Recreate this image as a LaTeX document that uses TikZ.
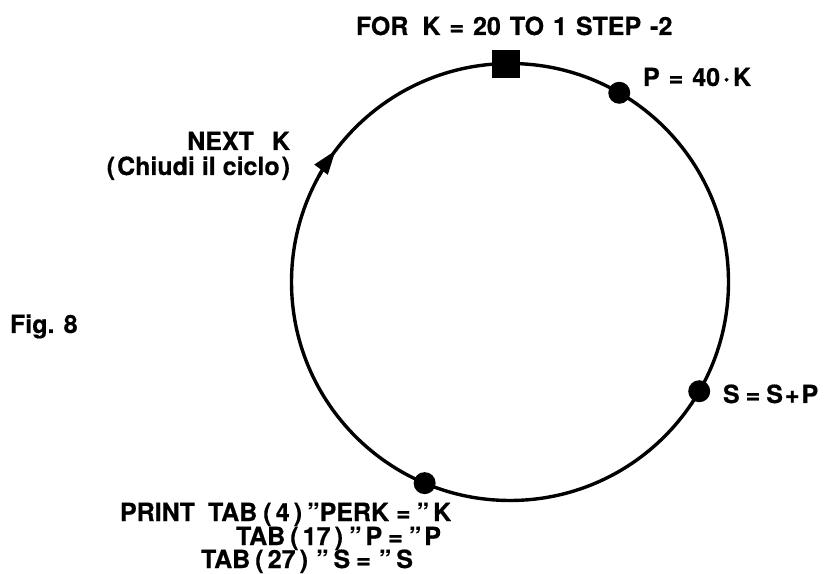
\documentclass[tikz,border=0pt]{standalone}
\usepackage{fontspec}
\setmainfont{TeX Gyre Heros}[BoldFeatures={FakeBold=0.5}]
\usetikzlibrary{arrows.meta}
\tikzset{
  lbl/.style={inner sep=0pt, outer sep=0pt, font=\fontsize{25}{22}\selectfont\bfseries},
  ring/.style={circle, draw, line width=3.4pt, inner sep=0pt, outer sep=0pt, minimum size=437pt},
  stepsq/.style={rectangle, fill=black, inner sep=0pt, minimum size=28pt},
  stepdot/.style={circle, fill=black, inner sep=0pt, minimum size=22pt},
}
\begin{document}
\begin{tikzpicture}[x=1pt,y=1pt]
\useasboundingbox (0,0) rectangle (835,573);
\node[ring] (R) at (510,291) {};
% loop points
\node[stepsq] (for) at (R.91) {};
\node[stepdot] (p) at (R.60) {};
\node[stepdot] (s) at (R.-30.5) {};
\node[stepdot] (pr) at (R.-113.7) {};
% direction arrow on the circle
\coordinate (a1) at (R.151);
\coordinate (a2) at (R.143);
\draw[line width=3.4pt, -{Triangle[length=24pt,width=16pt]}] (a1) arc[start angle=151, end angle=143, radius=218.5];
% labels
\node[lbl, anchor=base west] (tfor) at (356,538) {\spaceskip=9pt FOR\hspace{14pt}K = 20 TO 1 STEP -2};
\node[lbl, anchor=base west] (tp) at (643,487) {\spaceskip=9pt P = 40\hspace{3pt}·\hspace{3pt}K};
\node[lbl, anchor=base east] (tnext) at (290,423) {\spaceskip=9pt NEXT \ K};
\node[lbl, anchor=base east] (tchiudi) at (290,398) {(\hspace{2pt}Chiudi il ciclo\hspace{2pt})};
\node[lbl, anchor=base west] (tfig) at (10,240) {Fig. 8};
\node[lbl, anchor=base west] (ts) at (723,170) {\spaceskip=6pt S = S\hspace{2pt}+\hspace{2pt}P};
\node[lbl, anchor=base west] (tpr1) at (120,52) {PRINT\hspace{13pt}TAB\hspace{6pt}(\,4\,)\hspace{5pt}”PERK\hspace{7pt}=\hspace{6pt}”\hspace{4pt}K};
\node[lbl, anchor=base west] (tpr2) at (236,28) {TAB\hspace{5pt}(\,17\,)\hspace{6pt}”\hspace{4pt}P\hspace{6pt}=\hspace{6pt}”\hspace{3pt}P};
\node[lbl, anchor=base west] (tpr3) at (201,5) {TAB\hspace{5pt}(\,27\,)\hspace{8pt}”\hspace{5pt}S\hspace{6pt}=\hspace{8pt}”\hspace{5pt}S};
\end{tikzpicture}
\end{document}
